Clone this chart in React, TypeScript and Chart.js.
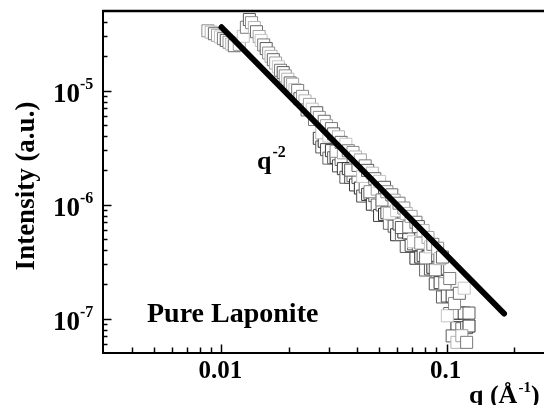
import React, { useEffect, useRef } from 'react';
import { Chart, registerables } from 'chart.js';

Chart.register(...registerables);

// ---- data (q in 1/Å, intensity in a.u.) ----
// upper (light grey) band of open squares
const qValues = [
  0.0087, 0.0090, 0.0093, 0.0096, 0.0099, 0.0102, 0.0105, 0.0108, 0.0111, 0.0114,
  0.0120, 0.0125, 0.0129,
  0.0133, 0.0136, 0.0140, 0.0143, 0.0147, 0.0150, 0.0154, 0.0158, 0.0162, 0.0166,
  0.0170, 0.0174, 0.0179, 0.0183, 0.0188, 0.0192, 0.0197, 0.0202, 0.0207, 0.0212,
  0.0218, 0.0223, 0.0229, 0.0235, 0.0240, 0.0246, 0.0253, 0.0259, 0.0265, 0.0272,
  0.0279, 0.0286, 0.0293, 0.0300, 0.0308, 0.0315, 0.0323, 0.0331, 0.0340, 0.0348,
  0.0357, 0.0366, 0.0375, 0.0384, 0.0394, 0.0404, 0.0414, 0.0424, 0.0435, 0.0446,
  0.0457, 0.0468, 0.0480, 0.0492, 0.0504, 0.0517, 0.0530, 0.0543, 0.0557, 0.0571,
  0.0585, 0.0600, 0.0615, 0.0630, 0.0646, 0.0662, 0.0679, 0.0696, 0.0713, 0.0731,
  0.0749, 0.0768, 0.0787, 0.0807, 0.0827, 0.0848, 0.0869, 0.0891, 0.0913, 0.0936,
  0.0959, 0.0983, 0.1008, 0.1033, 0.1059, 0.1085, 0.1112, 0.1140, 0.1169, 0.1198,
  0.1228, 0.1258,
];

const intensityValues = [
  33.5e-6, 32.6e-6, 31.6e-6, 30.6e-6, 29.6e-6, 28.6e-6, 27.6e-6, 26.6e-6, 25.6e-6, 24.8e-6,
  25.5e-6, 30.0e-6, 36.0e-6,
  42.1e-6, 39.5e-6, 35.8e-6, 32.9e-6, 29.9e-6, 27.6e-6, 25.2e-6, 23.4e-6, 21.4e-6, 20.0e-6,
  18.7e-6, 17.5e-6, 16.2e-6, 15.1e-6, 14.4e-6, 13.5e-6, 12.6e-6, 11.7e-6, 11.4e-6, 10.2e-6,
  10.05e-6, 8.51e-6, 8.92e-6, 8.14e-6, 6.78e-6, 7.58e-6, 6.88e-6, 5.59e-6, 6.40e-6, 5.83e-6,
  4.27e-6, 5.39e-6, 4.93e-6, 4.00e-6, 4.65e-6, 4.18e-6, 2.94e-6, 3.94e-6, 3.52e-6, 2.85e-6,
  3.39e-6, 2.97e-6, 2.01e-6, 2.87e-6, 2.62e-6, 2.21e-6, 2.47e-6, 1.77e-6, 2.19e-6, 2.00e-6,
  1.30e-6, 1.89e-6, 1.69e-6, 1.37e-6, 1.60e-6, 1.10e-6, 1.42e-6, 1.30e-6, 0.840e-6, 1.22e-6,
  1.095e-6, 0.886e-6, 1.03e-6, 0.630e-6, 0.935e-6, 0.838e-6, 0.638e-6, 0.789e-6, 0.473e-6, 0.701e-6,
  0.642e-6, 0.460e-6, 0.593e-6, 0.341e-6, 0.516e-6, 0.426e-6, 0.449e-6, 0.268e-6, 0.415e-6, 0.336e-6,
  0.347e-6, 0.203e-6, 0.106e-6, 0.225e-6, 0.0706e-6, 0.136e-6, 0.062e-6, 0.167e-6, 0.0709e-6, 0.185e-6,
  0.062e-6, 0.112e-6,
];

// lower (dark) scattered points of the same measurement
const qLower = [
  0.0272, 0.0279, 0.0286, 0.0293, 0.0300, 0.0308, 0.0315, 0.0323, 0.0331, 0.0340,
  0.0348, 0.0357, 0.0366, 0.0375, 0.0384, 0.0394, 0.0404, 0.0414, 0.0424, 0.0435,
  0.0446, 0.0457, 0.0468, 0.0480, 0.0492, 0.0504, 0.0517, 0.0530, 0.0543, 0.0557,
  0.0571, 0.0585, 0.0600, 0.0615, 0.0630, 0.0646, 0.0662, 0.0679, 0.0696, 0.0713,
  0.0731, 0.0749, 0.0768, 0.0787, 0.0807, 0.0827, 0.0848, 0.0869, 0.0891, 0.0913,
  0.0936, 0.0959, 0.0983, 0.1008, 0.1033, 0.1059, 0.1085, 0.1112, 0.1140, 0.1169,
  0.1198, 0.1228, 0.1258,
];

const intensityLower = [
  3.82e-6, 3.21e-6, 3.60e-6, 3.04e-6, 2.56e-6, 2.98e-6, 2.58e-6, 2.60e-6, 2.19e-6, 2.49e-6,
  2.07e-6, 1.74e-6, 2.07e-6, 1.74e-6, 1.80e-6, 1.49e-6, 1.73e-6, 1.40e-6, 1.19e-6, 1.43e-6,
  1.23e-6, 1.25e-6, 1.01e-6, 1.20e-6, 0.993e-6, 0.805e-6, 0.995e-6, 0.822e-6, 0.849e-6, 0.687e-6,
  0.832e-6, 0.648e-6, 0.545e-6, 0.676e-6, 0.548e-6, 0.576e-6, 0.430e-6, 0.565e-6, 0.440e-6, 0.454e-6,
  0.339e-6, 0.446e-6, 0.347e-6, 0.358e-6, 0.267e-6, 0.352e-6, 0.273e-6, 0.282e-6, 0.202e-6, 0.277e-6,
  0.207e-6, 0.155e-6, 0.212e-6, 0.158e-6, 0.111e-6, 0.158e-6, 0.111e-6, 0.0833e-6, 0.112e-6, 0.0817e-6,
  0.112e-6, 0.0835e-6, 0.0862e-6,
];

// q^-2 guide line end points
const fitQ = [0.01, 0.18];
const fitI = [3.6e-5, 1.11e-7];

// axes
const xMin = 0.00296;
const xMax = 0.271;
const yMin = 5.05e-8;
const yMax = 5.0e-5;
const xMajorTicks = [0.01, 0.1];
const xTickLabels = ['0.01', '0.1'];
const xMinorTicks = [0.004, 0.005, 0.006, 0.007, 0.008, 0.009, 0.02, 0.03, 0.04, 0.05, 0.06, 0.07, 0.08, 0.09, 0.2];
const yMajorTicks = [1e-7, 1e-6, 1e-5];
const yTickExponents = ['-7', '-6', '-5'];
const yMinorTicks = [
  6e-8, 7e-8, 8e-8, 9e-8,
  2e-7, 3e-7, 4e-7, 5e-7, 6e-7, 7e-7, 8e-7, 9e-7,
  2e-6, 3e-6, 4e-6, 5e-6, 6e-6, 7e-6, 8e-6, 9e-6,
  2e-5, 3e-5, 4e-5,
];

const edgeShades = ['#8c8c8c', '#b4b4b4', '#6a6a6a', '#a0a0a0', '#c4c4c4', '#7a7a7a', '#5a5a5a'];
const darkShades = ['#3a3a3a', '#5a5a5a', '#2e2e2e', '#4c4c4c', '#686868'];

const FONT = "'Liberation Serif', 'Times New Roman', serif";

const decorPlugin = {
  id: 'decor',
  afterDraw(chart: any) {
    const { ctx, chartArea, scales } = chart;
    const xs = scales.x;
    const ys = scales.y;
    const { left, right, top, bottom } = chartArea;
    ctx.save();
    ctx.strokeStyle = '#000';
    ctx.lineCap = 'butt';

    const seg = (x1: number, y1: number, x2: number, y2: number) => {
      ctx.beginPath();
      ctx.moveTo(x1, y1);
      ctx.lineTo(x2, y2);
      ctx.stroke();
    };

    // top frame line
    ctx.lineWidth = 2.5;
    seg(left, top, right, top);

    // inward ticks
    ctx.lineWidth = 1.5;
    xMajorTicks.forEach((v) => {
      const px = Math.round(xs.getPixelForValue(v)) + 0.5;
      seg(px, bottom, px, bottom - 8);
    });
    xMinorTicks.forEach((v) => {
      const px = Math.round(xs.getPixelForValue(v)) + 0.5;
      seg(px, bottom, px, bottom - 5);
    });
    yMajorTicks.forEach((v) => {
      const py = Math.round(ys.getPixelForValue(v)) + 0.5;
      seg(left, py, left + 9, py);
    });
    yMinorTicks.forEach((v) => {
      const py = Math.round(ys.getPixelForValue(v)) + 0.5;
      seg(left, py, left + 5, py);
    });

    ctx.fillStyle = '#000';
    ctx.textBaseline = 'alphabetic';

    // x tick labels
    ctx.font = `bold 25px ${FONT}`;
    ctx.textAlign = 'center';
    xMajorTicks.forEach((v, i) => {
      const px = xs.getPixelForValue(v);
      ctx.fillText(xTickLabels[i], px - 1, 378);
    });

    // y tick labels 10^n
    yMajorTicks.forEach((v, i) => {
      const py = ys.getPixelForValue(v);
      ctx.font = `bold 27px ${FONT}`;
      ctx.textAlign = 'right';
      ctx.fillText('10', 80, py + 11);
      ctx.font = `bold 16px ${FONT}`;
      ctx.textAlign = 'left';
      ctx.fillText(yTickExponents[i], 80, py - 2);
    });

    // y axis title
    ctx.save();
    ctx.translate(27, 186);
    ctx.rotate(-Math.PI / 2);
    ctx.font = `bold 27px ${FONT}`;
    ctx.textAlign = 'center';
    ctx.textBaseline = 'middle';
    ctx.fillText('Intensity (a.u.)', 0, 0);
    ctx.restore();

    // x axis title q (Å^-1)
    ctx.textAlign = 'left';
    ctx.textBaseline = 'alphabetic';
    ctx.font = `bold 26px ${FONT}`;
    let x0 = 469;
    ctx.fillText('q (Å', x0, 403);
    x0 += ctx.measureText('q (Å').width;
    ctx.font = `bold 15px ${FONT}`;
    ctx.fillText('-1', x0 + 1, 392);
    x0 += ctx.measureText('-1').width + 1;
    ctx.font = `bold 26px ${FONT}`;
    ctx.fillText(')', x0, 403);

    // annotations
    ctx.font = `bold 26px ${FONT}`;
    ctx.fillText('q', 257, 169);
    const qw = ctx.measureText('q').width;
    ctx.font = `bold 16px ${FONT}`;
    ctx.fillText('-2', 257 + qw + 1, 157);

    ctx.font = `bold 28px ${FONT}`;
    ctx.fillText('Pure Laponite', 147, 322);

    ctx.restore();
  },
};

export default function App() {
  const canvasRef = useRef<HTMLCanvasElement | null>(null);

  useEffect(() => {
    const canvas = canvasRef.current;
    if (!canvas) return;
    const points = qValues.map((q, i) => ({ x: q, y: intensityValues[i] }));
    const lowerPoints = qLower.map((q, i) => ({ x: q, y: intensityLower[i] }));
    const fitPoints = fitQ.map((q, i) => ({ x: q, y: fitI[i] }));

    const chart = new Chart(canvas, {
      type: 'scatter',
      data: {
        datasets: [
          {
            label: 'q^-2',
            data: fitPoints,
            showLine: true,
            borderColor: '#000',
            borderWidth: 6,
            borderCapStyle: 'round',
            pointRadius: 0,
            fill: false,
          } as any,
          {
            label: 'Pure Laponite',
            data: points,
            showLine: false,
            pointStyle: 'rect',
            pointRadius: 8.5,
            pointBorderWidth: 1,
            pointBackgroundColor: '#ffffff',
            pointBorderColor: (c: any) => edgeShades[c.dataIndex % edgeShades.length],
          } as any,
          {
            label: 'Pure Laponite (scatter)',
            data: lowerPoints,
            showLine: false,
            pointStyle: 'rect',
            pointRadius: 8.5,
            pointBorderWidth: 1,
            pointBackgroundColor: '#ffffff',
            pointBorderColor: (c: any) => darkShades[c.dataIndex % darkShades.length],
          } as any,
        ],
      },
      options: {
        animation: false,
        responsive: false,
        devicePixelRatio: 1,
        layout: { autoPadding: false, padding: { top: 11, right: 0, bottom: 0, left: 0 } },
        plugins: {
          legend: { display: false },
          tooltip: { enabled: false },
        },
        events: [],
        scales: {
          x: {
            type: 'logarithmic',
            min: xMin,
            max: xMax,
            grid: { display: false },
            border: { display: true, color: '#000', width: 2 },
            ticks: { display: false },
            afterFit: (s: any) => {
              s.height = 52.5;
            },
          },
          y: {
            type: 'logarithmic',
            min: yMin,
            max: yMax,
            grid: { display: false },
            border: { display: true, color: '#000', width: 2 },
            ticks: { display: false },
            afterFit: (s: any) => {
              s.width = 102.5;
            },
          },
        },
      } as any,
      plugins: [decorPlugin],
    });
    return () => chart.destroy();
  }, []);

  return (
    <div style={{ position: 'absolute', left: 0, top: 0, width: 544, height: 405, background: '#fff' }}>
      <canvas ref={canvasRef} width={544} height={405} style={{ display: 'block', width: 544, height: 405 }} />
    </div>
  );
}
